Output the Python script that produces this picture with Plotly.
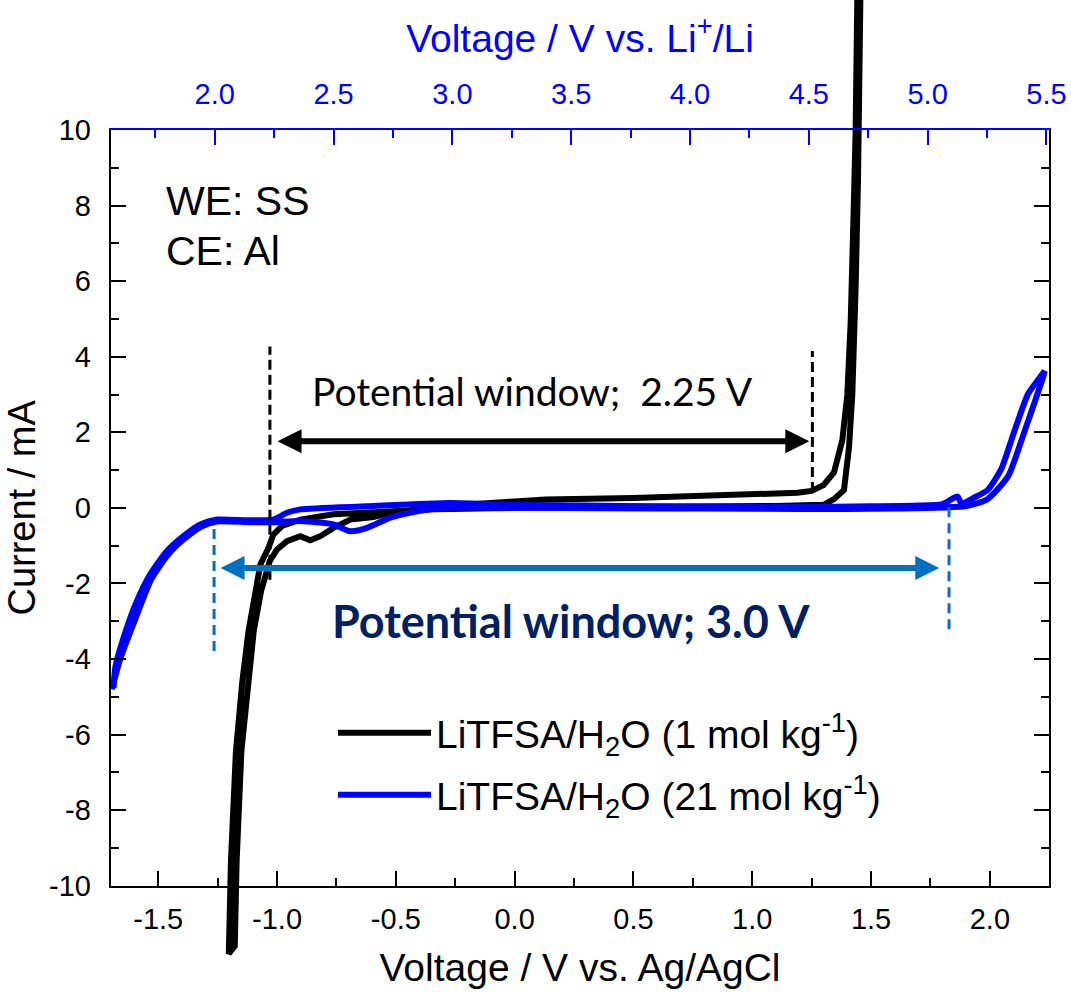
import plotly.graph_objects as go

# ---------------- data ----------------
x_range = [-1.7, 2.25]          # V vs. Ag/AgCl
y_range = [-10, 10]             # mA
li_offset = 3.262               # V vs. Li+/Li  =  V vs. Ag/AgCl + offset

x_tickvals = [-1.5, -1.0, -0.5, 0.0, 0.5, 1.0, 1.5, 2.0]
x_ticktext = ["-1.5", "-1.0", "-0.5", "0.0", "0.5", "1.0", "1.5", "2.0"]
y_tickvals = [-10, -8, -6, -4, -2, 0, 2, 4, 6, 8, 10]
y_ticktext = ["-10", "-8", "-6", "-4", "-2", "0", "2", "4", "6", "8", "10"]
top_tickvals = [2.0, 2.5, 3.0, 3.5, 4.0, 4.5, 5.0, 5.5]
top_ticktext = ["2.0", "2.5", "3.0", "3.5", "4.0", "4.5", "5.0", "5.5"]

# LiTFSA/H2O (1 mol kg-1) : one CV loop (V vs. Ag/AgCl, mA)
black_v = [1.455, 1.450, 1.445, 1.435, 1.421, 1.407, 1.386, 1.344, 1.30, 1.10, 0.80, 0.40, 0.00,
           -0.341, -0.552, -0.762, -0.902, -0.979, -1.015, -1.036, -1.070, -1.092, -1.120, -1.146,
           -1.173, -1.194, -1.203, -1.178, -1.170, -1.150, -1.122, -1.098, -1.067, -1.031, -1.000,
           -0.958, -0.902, -0.860, -0.818, -0.762, -0.692, -0.594, -0.523, -0.410, -0.300, 0.000,
           0.130, 0.500, 0.757, 1.000, 1.190, 1.250, 1.300, 1.344, 1.379, 1.400, 1.414, 1.426,
           1.435, 1.442]
black_i = [13.5, 10.0, 8.7, 5.85, 3.0, 1.6, 0.47, 0.23, 0.08, 0.05, 0.04, 0.02, 0.00,
           -0.04, -0.09, -0.17, -0.31, -0.48, -0.70, -1.06, -1.50, -2.20, -3.26, -4.59,
           -6.44, -9.35, -11.8, -11.6, -9.35, -6.44, -4.59, -3.26, -2.20, -1.41, -1.10,
           -0.88, -0.75, -0.86, -0.75, -0.53, -0.31, -0.24, -0.13, -0.05, 0.05, 0.17,
           0.22, 0.26, 0.30, 0.34, 0.40, 0.45, 0.60, 0.94, 1.79, 3.0, 4.9, 7.7,
           10.0, 13.5]

# LiTFSA/H2O (21 mol kg-1) : anodic sweep (V vs. Ag/AgCl, mA)
blue_fwd_v = [-1.688, -1.680, -1.632, -1.590, -1.534, -1.464, -1.394, -1.323, -1.253, -1.113,
              -1.015, -0.958, -0.902, -0.621, -0.271, 0.000, 0.300, 0.600, 0.900, 1.200, 1.500,
              1.700, 1.800, 1.864, 1.880, 1.936, 1.990, 2.048, 2.105, 2.161, 2.203, 2.231]
blue_fwd_i = [-4.76, -4.20, -3.17, -2.47, -1.76, -1.15, -0.75, -0.44, -0.31, -0.33,
              -0.31, -0.13, -0.04, 0.04, 0.13, 0.08, 0.06, 0.04, 0.03, 0.02, 0.04,
              0.06, 0.10, 0.30, 0.12, 0.28, 0.47, 1.03, 2.07, 3.02, 3.39, 3.63]
# LiTFSA/H2O (21 mol kg-1) : cathodic sweep (V vs. Li+/Li, mA)
blue_rev_v_li = [5.493, 5.487, 5.452, 5.395, 5.339, 5.252, 5.162, 4.862, 4.462, 4.062, 3.662,
                 3.262, 2.991, 2.852, 2.739, 2.641, 2.570, 2.500, 2.360, 2.247, 2.149, 2.009,
                 1.942, 1.872, 1.802, 1.732, 1.662, 1.602, 1.567]
blue_rev_i = [3.63, 3.48, 2.83, 1.79, 0.84, 0.23, 0.05, -0.02, -0.03, -0.02, -0.01,
              0.00, 0.00, -0.09, -0.26, -0.53, -0.62, -0.44, -0.35, -0.38, -0.38, -0.36,
              -0.50, -0.82, -1.25, -1.90, -3.00, -4.00, -4.80]

names = ["LiTFSA/H<sub>2</sub>O (1 mol kg<sup>-1</sup>)",
         "LiTFSA/H<sub>2</sub>O (21 mol kg<sup>-1</sup>)"]

# potential window markers (V vs. Ag/AgCl, mA)
win1_v = [-1.03, 1.253]          # black dashed lines
win1_ytop = [4.27, 4.15]
win1_ybot = [-1.9, 0.42]
win1_arrow = [-1.004, 1.24, 1.76]
win2_v = [-1.265, 1.828]         # blue dashed lines
win2_ytop = [-0.40, 0.13]
win2_ybot = [-3.79, -3.21]
win2_arrow = [-1.244, 1.787, -1.59]

# ---------------- geometry ----------------
W, H = 1071, 995
PL, PR, PT, PB = 110.7, 1049.3, 130.0, 885.7
dom_x = [PL / W, PR / W]
dom_y = [1 - PB / H, 1 - PT / H]
sx = (PR - PL) / (x_range[1] - x_range[0])
sy = (PB - PT) / (y_range[1] - y_range[0])
full_x_range = [x_range[0] - PL / sx, x_range[1] + (W - PR) / sx]
full_y_range = [y_range[0] - (H - PB) / sy, y_range[1] + PT / sy]

FONT = "Liberation Sans, Arial, sans-serif"
BLUE = "#0000FF"

fig = go.Figure()
# black curve on full-figure axes so that it runs past the frame like the original
fig.add_trace(go.Scatter(x=black_v, y=black_i, mode="lines", name=names[0],
                         line=dict(color="black", width=6), xaxis="x", yaxis="y",
                         legend="legend"))
fig.add_trace(go.Scatter(x=blue_fwd_v, y=blue_fwd_i, mode="lines", name=names[1],
                         line=dict(color=BLUE, width=6, shape="spline", smoothing=0.6),
                         xaxis="x2", yaxis="y2", legend="legend2", legendgroup="b"))
fig.add_trace(go.Scatter(x=blue_rev_v_li, y=blue_rev_i, mode="lines", name=names[1],
                         line=dict(color=BLUE, width=6, shape="spline", smoothing=0.6),
                         xaxis="x3", yaxis="y2", legend="legend2", legendgroup="b",
                         showlegend=False))

common_tick = dict(ticks="inside", ticklen=15, tickwidth=2, showgrid=False, zeroline=False,
                   showline=True, linewidth=2)

fig.update_layout(
    width=W, height=H,
    margin=dict(l=0, r=0, t=0, b=0),
    paper_bgcolor="white", plot_bgcolor="rgba(0,0,0,0)",
    font=dict(family=FONT, color="black"),
    xaxis=dict(domain=[0, 1], range=full_x_range, anchor="y", visible=False, fixedrange=True),
    yaxis=dict(domain=[0, 1], range=full_y_range, anchor="x", visible=False, fixedrange=True),
    xaxis2=dict(domain=dom_x, range=x_range, anchor="y2", **common_tick,
                linecolor="black", tickcolor="black",
                tickmode="array", tickvals=x_tickvals, ticktext=x_ticktext,
                minor=dict(ticks="inside", ticklen=8, tickwidth=2, dtick=0.25, tick0=0,
                           tickcolor="black"),
                tickfont=dict(size=29, color="black"), ticklabelstandoff=6,
                title=dict(text="Voltage / V vs. Ag/AgCl", font=dict(size=39), standoff=20),
                automargin=False),
    xaxis3=dict(overlaying="x2", side="top", anchor="y2",
                range=[x_range[0] + li_offset, x_range[1] + li_offset], **common_tick,
                linecolor=BLUE, tickcolor=BLUE,
                tickmode="array", tickvals=top_tickvals, ticktext=top_ticktext,
                minor=dict(ticks="inside", ticklen=8, tickwidth=2, dtick=0.25, tick0=0,
                           tickcolor=BLUE),
                tickfont=dict(size=29, color=BLUE), ticklabelstandoff=12,
                title=dict(text="Voltage / V vs. Li<sup>+</sup>/Li",
                           font=dict(size=39, color=BLUE), standoff=14),
                automargin=False),
    yaxis2=dict(domain=dom_y, range=y_range, anchor="x2", **common_tick, mirror="ticks",
                linecolor="black", tickcolor="black",
                tickmode="array", tickvals=y_tickvals, ticktext=y_ticktext,
                minor=dict(ticks="inside", ticklen=8, tickwidth=2, dtick=1, tick0=0,
                           tickcolor="black"),
                tickfont=dict(size=29, color="black"), ticklabelstandoff=12,
                title=dict(text="Current / mA", font=dict(size=38), standoff=2),
                automargin=False),
    legend=dict(x=(338 - 5) / W, y=1 - 733 / H, xanchor="left", yanchor="middle",
                font=dict(size=39, family=FONT), itemwidth=93, bgcolor="rgba(0,0,0,0)"),
    legend2=dict(x=(338 - 5) / W, y=1 - 795 / H, xanchor="left", yanchor="middle",
                 font=dict(size=39, family=FONT), itemwidth=93, bgcolor="rgba(0,0,0,0)"),
    showlegend=True,
)

shapes = []
for v, y0, y1 in zip(win1_v, win1_ybot, win1_ytop):
    shapes.append(dict(type="line", xref="x2", yref="y2", x0=v, x1=v, y0=y0, y1=y1,
                       line=dict(color="black", width=3, dash="10px,5px")))
for v, y0, y1 in zip(win2_v, win2_ybot, win2_ytop):
    shapes.append(dict(type="line", xref="x2", yref="y2", x0=v, x1=v, y0=y0, y1=y1,
                       line=dict(color="#0070C0", width=3, dash="10px,6px")))
fig.update_layout(shapes=shapes)

ann = []
for (xa, xb, yy), col in [(win1_arrow, "black"), (win2_arrow, "#0070C0")]:
    ann.append(dict(x=xb, y=yy, ax=xa, ay=yy, xref="x2", yref="y2", axref="x2", ayref="y2",
                    text="", showarrow=True, arrowhead=2, startarrowhead=2,
                    arrowside="end+start", arrowwidth=6, arrowsize=0.8, startarrowsize=0.8,
                    arrowcolor=col, standoff=0, startstandoff=0))
ann.append(dict(x=0.0735, y=3.09, xref="x2", yref="y2", text="Potential window;  2.25 V",
                showarrow=False, font=dict(family="Lato, sans-serif", size=39, color="black")))
ann.append(dict(x=0.237, y=-3.0, xref="x2", yref="y2", text="<b>Potential window; 3.0 V</b>",
                showarrow=False, font=dict(family="Lato, sans-serif", size=45, color="#002060")))
ann.append(dict(x=-1.475, y=8.11, xref="x2", yref="y2", text="WE: SS", xanchor="left",
                showarrow=False, font=dict(family=FONT, size=41, color="black")))
ann.append(dict(x=-1.475, y=6.79, xref="x2", yref="y2", text="CE: Al", xanchor="left",
                showarrow=False, font=dict(family=FONT, size=41, color="black")))
fig.update_layout(annotations=ann)

fig.write_html("out.html")
